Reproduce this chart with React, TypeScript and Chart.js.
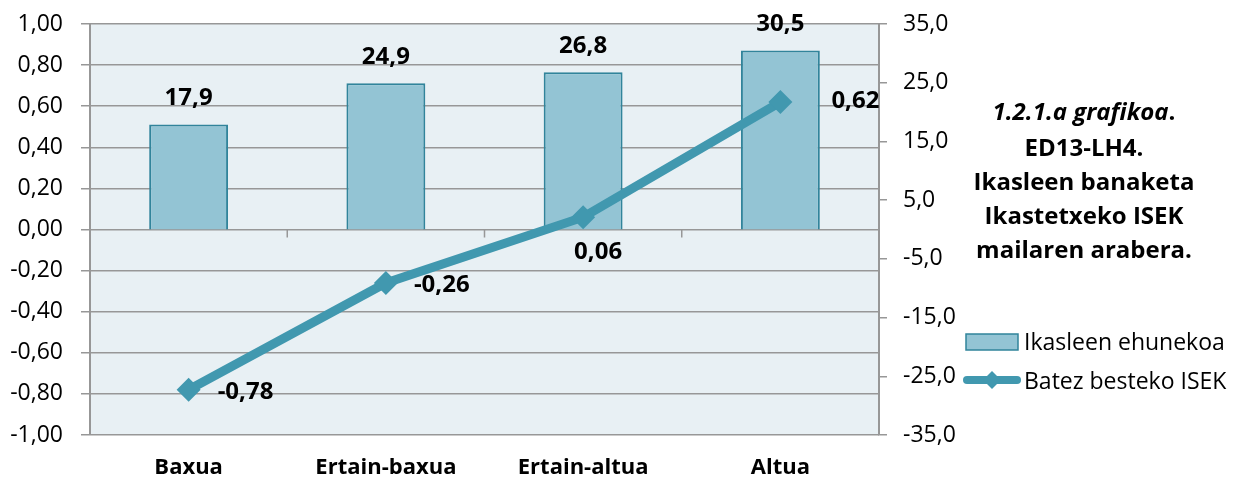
import React, { useEffect, useRef } from 'react';
import { Chart, registerables } from 'chart.js';

Chart.register(...registerables);

// ---------- data ----------
const categories = ['Baxua', 'Ertain-baxua', 'Ertain-altua', 'Altua'];
const studentShare = [17.9, 24.9, 26.8, 30.5]; // Ikasleen ehunekoa (right axis)
const meanIsek = [-0.78, -0.26, 0.06, 0.62]; // Batez besteko ISEK (left axis)
const seriesNames = ['Ikasleen ehunekoa', 'Batez besteko ISEK'];
const leftTickValues = [-1, -0.8, -0.6, -0.4, -0.2, 0, 0.2, 0.4, 0.6, 0.8, 1];
const rightTickValues = [-35, -25, -15, -5, 5, 15, 25, 35];
const titleItalic = '1.2.1.a grafikoa';
const titleRest = '.';
const titleLines = ['ED13-LH4.', 'Ikasleen banaketa', 'Ikastetxeko ISEK', 'mailaren arabera.'];

// ---------- styles ----------
const FONT = '"Open Sans", Lato, sans-serif';
const PLOT_BG = '#E8F0F4';
const GRID = '#979797';
const BAR_FILL = '#93C4D4';
const BAR_BORDER = '#31849B';
const LINE_COLOR = '#4198AF';
// label placement for line points: [dx, dy, align]
const lineLabelPlacement: [number, number, CanvasTextAlign][] = [
  [29, 1, 'left'],
  [28, 1, 'left'],
  [15, 33, 'center'],
  [51, -3, 'left'],
];

const fmt = (v: number, d: number) => v.toFixed(d).replace('.', ',');

function textAtCenter(ctx: CanvasRenderingContext2D, text: string, x: number, cy: number, size: number) {
  ctx.textBaseline = 'alphabetic';
  ctx.fillText(text, x, cy + size * 0.357);
}

const decorPlugin = {
  id: 'decor',
  beforeDraw(chart: any) {
    const { ctx, chartArea: a } = chart;
    ctx.save();
    ctx.fillStyle = PLOT_BG;
    ctx.fillRect(a.left, a.top, a.right - a.left, a.bottom - a.top);
    ctx.restore();
  },
  beforeDatasetsDraw(chart: any) {
    const { ctx } = chart;
    const xs = chart.scales.x;
    const y0 = chart.scales.y.getPixelForValue(0);
    ctx.save();
    ctx.strokeStyle = GRID;
    ctx.lineWidth = 1.5;
    for (let i = 1; i < categories.length; i++) {
      const bx = (xs.getPixelForValue(i - 1) + xs.getPixelForValue(i)) / 2;
      ctx.beginPath();
      ctx.moveTo(bx, y0);
      ctx.lineTo(bx, y0 + 8);
      ctx.stroke();
    }
    ctx.restore();
  },
  afterDatasetsDraw(chart: any) {
    const { ctx } = chart;
    ctx.save();
    ctx.fillStyle = '#000';
    const size = 24;
    ctx.font = `bold ${size}px ${FONT}`;
    const barMeta = chart.getDatasetMeta(0);
    barMeta.data.forEach((el: any, i: number) => {
      ctx.textAlign = 'center';
      textAtCenter(ctx, fmt(studentShare[i], 1), el.x, el.y - 28, size);
    });
    const lineMeta = chart.getDatasetMeta(1);
    lineMeta.data.forEach((el: any, i: number) => {
      const [dx, dy, align] = lineLabelPlacement[i];
      ctx.textAlign = align;
      textAtCenter(ctx, fmt(meanIsek[i], 2), el.x + dx, el.y + dy, size);
    });
    ctx.restore();
  },
  afterDraw(chart: any) {
    const { ctx } = chart;
    ctx.save();
    ctx.fillStyle = '#000';
    // title
    const ts = 24;
    const cx = 1084;
    ctx.font = `italic bold ${ts}px ${FONT}`;
    const w1 = ctx.measureText(titleItalic).width;
    ctx.font = `bold ${ts}px ${FONT}`;
    const w2 = ctx.measureText(titleRest).width;
    const start = cx - (w1 + w2) / 2;
    ctx.textAlign = 'left';
    ctx.font = `italic bold ${ts}px ${FONT}`;
    textAtCenter(ctx, titleItalic, start, 111, ts);
    ctx.font = `bold ${ts}px ${FONT}`;
    textAtCenter(ctx, titleRest, start + w1, 111, ts);
    ctx.textAlign = 'center';
    titleLines.forEach((t, i) => textAtCenter(ctx, t, cx, 147 + i * 34.3, ts));

    // legend
    const ls = 23;
    ctx.font = `${ls}px ${FONT}`;
    ctx.fillStyle = BAR_FILL;
    ctx.fillRect(966, 334, 52, 16);
    ctx.strokeStyle = BAR_BORDER;
    ctx.lineWidth = 1.5;
    ctx.strokeRect(966, 334, 52, 16);
    ctx.fillStyle = '#000';
    ctx.textAlign = 'left';
    textAtCenter(ctx, seriesNames[0], 1024, 342, ls);

    ctx.strokeStyle = LINE_COLOR;
    ctx.lineWidth = 8;
    ctx.lineCap = 'round';
    ctx.beginPath();
    ctx.moveTo(967, 380);
    ctx.lineTo(1017, 380);
    ctx.stroke();
    ctx.fillStyle = LINE_COLOR;
    ctx.beginPath();
    ctx.moveTo(992, 371);
    ctx.lineTo(1001, 380);
    ctx.lineTo(992, 389);
    ctx.lineTo(983, 380);
    ctx.closePath();
    ctx.fill();
    ctx.fillStyle = '#000';
    textAtCenter(ctx, seriesNames[1], 1024, 381, ls);
    ctx.restore();
  },
};

export default function App() {
  const ref = useRef<HTMLCanvasElement | null>(null);
  useEffect(() => {
    if (!ref.current) return;
    const chart = new Chart(ref.current, {
      type: 'bar',
      data: {
        labels: categories,
        datasets: [
          {
            type: 'bar',
            label: seriesNames[0],
            data: studentShare,
            yAxisID: 'y1',
            backgroundColor: BAR_FILL,
            borderColor: BAR_BORDER,
            borderWidth: 2,
            barPercentage: 0.4,
            categoryPercentage: 1,
            order: 1,
          },
          {
            type: 'line',
            label: seriesNames[1],
            data: meanIsek,
            yAxisID: 'y',
            borderColor: LINE_COLOR,
            backgroundColor: LINE_COLOR,
            borderWidth: 9,
            pointStyle: 'rectRot',
            pointRadius: 12,
            pointBorderWidth: 0,
            pointBackgroundColor: LINE_COLOR,
            tension: 0,
            fill: false,
            order: 0,
          } as any,
        ],
      },
      options: {
        responsive: false,
        animation: false,
        events: [],
        layout: { padding: { top: 24, left: 0, right: 0, bottom: 0 } },
        plugins: { legend: { display: false }, tooltip: { enabled: false }, title: { display: false } },
        scales: {
          x: {
            type: 'category',
            grid: { display: false, drawTicks: false },
            border: { display: false },
            ticks: { color: '#000', font: { family: FONT, size: 22, weight: 'bold' }, padding: 20, maxRotation: 0 },
            afterFit: (s: any) => { s.height = 44; s.paddingLeft = 0; s.paddingRight = 0; },
          },
          y: {
            position: 'left',
            min: -1,
            max: 1,
            afterBuildTicks: (s: any) => { s.ticks = leftTickValues.map((v) => ({ value: v })); },
            ticks: {
              color: '#000',
              font: { family: FONT, size: 23 },
              padding: 18,
              callback: (v: any) => fmt(Number(v), 2),
            },
            grid: { color: GRID, lineWidth: 1.5, tickLength: 9, tickColor: GRID, drawTicks: true },
            border: { display: true, color: GRID, width: 2 },
            afterFit: (s: any) => { s.width = 90; s.paddingTop = 0; s.paddingBottom = 0; },
          },
          y1: {
            position: 'right',
            min: -35,
            max: 35,
            afterBuildTicks: (s: any) => { s.ticks = rightTickValues.map((v) => ({ value: v })); },
            ticks: {
              color: '#000',
              font: { family: FONT, size: 23 },
              padding: 16,
              callback: (v: any) => fmt(Number(v), 1),
            },
            grid: { drawOnChartArea: false, tickLength: 8, tickColor: GRID, lineWidth: 1.5, drawTicks: true },
            border: { display: true, color: GRID, width: 2 },
            afterFit: (s: any) => { s.width = 1238 - 879; s.paddingTop = 0; s.paddingBottom = 0; },
          },
        },
      } as any,
      plugins: [decorPlugin],
    });
    return () => chart.destroy();
  }, []);
  return (
    <div style={{ position: 'absolute', left: 0, top: 0, width: 1238, height: 479, background: '#fff' }}>
      <canvas ref={ref} width={1238} height={479} style={{ display: 'block' }} />
    </div>
  );
}
